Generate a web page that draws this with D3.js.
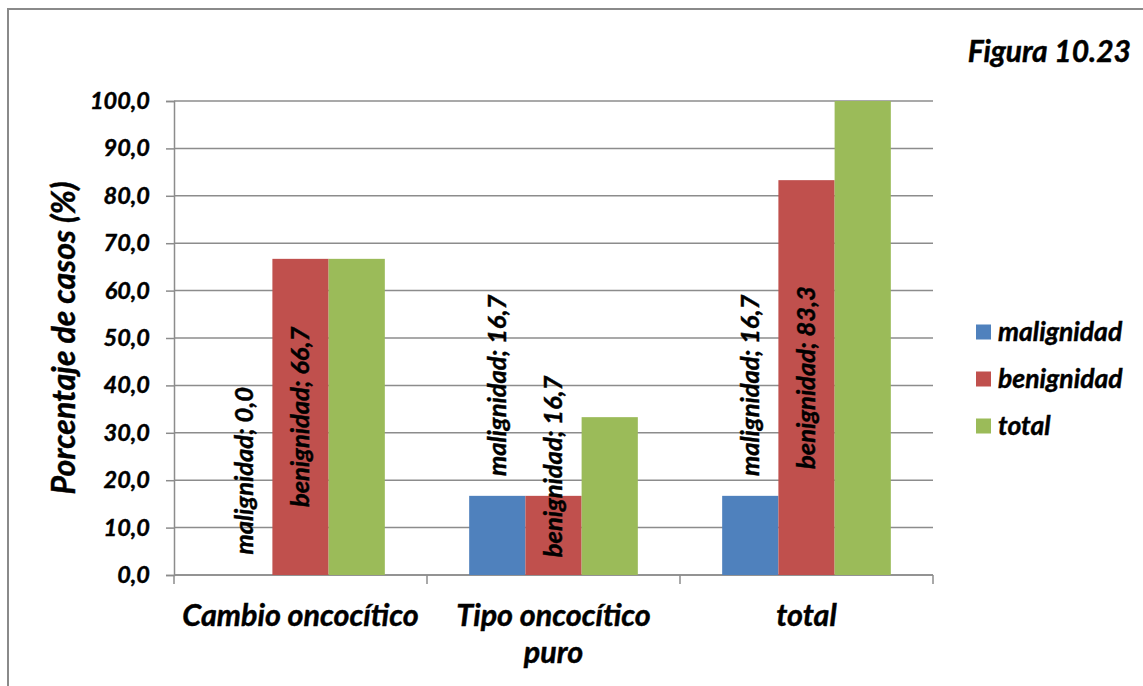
<!DOCTYPE html>
<html>
<head>
<meta charset="utf-8">
<script src="https://cdn.jsdelivr.net/npm/d3@7"></script>
<style>
  html, body { margin: 0; padding: 0; background: #fff; }
  svg { display: block; }
  text { font-family: "Lato", "Open Sans", sans-serif; font-weight: bold; font-style: italic; fill: #000; stroke: #000; stroke-width: 0.45px; }
</style>
</head>
<body>
<svg id="chart" width="1143" height="686"></svg>
<script>
// Chart data
const categories = ["Cambio oncocítico", "Tipo oncocítico puro", "total"];
const seriesNames = ["malignidad", "benignidad", "total"];
const malignidad = [0.0, 16.7, 16.7];
const benignidad = [66.7, 16.7, 83.3];
const total = [66.7, 33.3, 100.0];
const yTicks = [0, 10, 20, 30, 40, 50, 60, 70, 80, 90, 100];
const seriesColors = ["#4F81BD", "#C0504D", "#9BBB59"];

// Data-label placement: value-axis position of each label's centre
const labelCenterMal = [22.0, 40.0, 40.0];
const labelCenterBen = [33.35, 22.9, 41.65];

const svg = d3.select("#chart");

// Outer chart frame
svg.append("rect")
  .attr("x", 8).attr("y", 9).attr("width", 1300).attr("height", 900)
  .attr("fill", "none").attr("stroke", "#8a8a8a").attr("stroke-width", 2);

const plot = { left: 174, right: 933, top: 101, bottom: 575 };

const x0 = d3.scaleBand().domain(categories).range([plot.left, plot.right]).paddingInner(0).paddingOuter(0);
const x1 = d3.scaleBand().domain(seriesNames).range([0, x0.bandwidth()]).paddingInner(0).paddingOuter(0.75);
const y = d3.scaleLinear().domain([0, 100]).range([plot.bottom, plot.top]);

const fmt = v => d3.format(".1f")(v).replace(".", ",");

// Gridlines
svg.append("g").selectAll("line").data(yTicks).join("line")
  .attr("x1", plot.left).attr("x2", plot.right)
  .attr("y1", d => y(d)).attr("y2", d => y(d))
  .attr("stroke", "#8c8c8c").attr("stroke-width", 1.5);

// Y axis
const yAxis = svg.append("g").attr("transform", `translate(${plot.left},0)`)
  .call(d3.axisLeft(y).tickValues(yTicks).tickFormat(fmt).tickSize(8).tickPadding(16));
yAxis.select(".domain").attr("stroke", "#8c8c8c").attr("stroke-width", 1.5);
yAxis.selectAll(".tick line").attr("stroke", "#8c8c8c").attr("stroke-width", 1.5);
yAxis.selectAll(".tick text")
  .style("font-family", "Lato, sans-serif").style("font-weight", "bold").style("font-style", "italic")
  .style("font-size", "23.5px").attr("fill", "#000").attr("stroke", "#000").attr("stroke-width", 0.45);

// X axis (ticks at category boundaries)
const xAxisG = svg.append("g");
xAxisG.append("line").attr("x1", plot.left).attr("x2", plot.right)
  .attr("y1", plot.bottom).attr("y2", plot.bottom)
  .attr("stroke", "#8c8c8c").attr("stroke-width", 1.5);
const boundaries = categories.map(c => x0(c)).concat([x0(categories[categories.length - 1]) + x0.bandwidth()]);
xAxisG.selectAll("line.tk").data(boundaries).join("line").attr("class", "tk")
  .attr("x1", d => d).attr("x2", d => d)
  .attr("y1", plot.bottom).attr("y2", plot.bottom + 9)
  .attr("stroke", "#8c8c8c").attr("stroke-width", 1.5);

// Category labels (wrapped)
const catLines = { "Cambio oncocítico": ["Cambio oncocítico"], "Tipo oncocítico puro": ["Tipo oncocítico", "puro"], "total": ["total"] };
categories.forEach(c => {
  const cx = x0(c) + x0.bandwidth() / 2;
  const t = svg.append("text")
    .attr("x", cx).attr("y", 626)
    .attr("text-anchor", "middle").style("font-size", "30.5px");
  catLines[c].forEach((ln, i) => {
    t.append("tspan").attr("x", cx).attr("dy", i === 0 ? 0 : 37).text(ln);
  });
});

// Bars
const seriesValues = [malignidad, benignidad, total];
const barData = [];
categories.forEach((c, ci) => {
  seriesNames.forEach((s, si) => {
    barData.push({ cat: c, ci, series: s, si, value: seriesValues[si][ci] });
  });
});
svg.append("g").selectAll("rect").data(barData).join("rect")
  .attr("x", d => x0(d.cat) + x1(d.series))
  .attr("width", x1.bandwidth())
  .attr("y", d => y(d.value))
  .attr("height", d => y(0) - y(d.value))
  .attr("fill", d => seriesColors[d.si]);

// Data labels for malignidad and benignidad
const labels = [];
categories.forEach((c, ci) => {
  labels.push({ cat: c, series: "malignidad", text: `malignidad; ${fmt(malignidad[ci])}`, center: labelCenterMal[ci] });
  labels.push({ cat: c, series: "benignidad", text: `benignidad; ${fmt(benignidad[ci])}`, center: labelCenterBen[ci] });
});
svg.append("g").selectAll("text").data(labels).join("text")
  .attr("transform", d => `translate(${x0(d.cat) + x1(d.series) + x1.bandwidth() / 2},${y(d.center)}) rotate(-90)`)
  .attr("text-anchor", "middle").attr("dy", "0.35em")
  .style("font-size", "25.5px")
  .text(d => d.text);

// Y axis title
svg.append("text")
  .attr("transform", `translate(64,${(plot.top + plot.bottom) / 2}) rotate(-90)`)
  .attr("text-anchor", "middle").attr("dy", "0.35em")
  .style("font-size", "32px")
  .text("Porcentaje de casos (%)");

// Figure caption
svg.append("text").attr("x", 1131).attr("y", 62)
  .attr("text-anchor", "end").style("font-size", "30px")
  .text("Figura 10.23");

// Legend
const legend = svg.append("g");
const legendY = [332, 379, 426];
seriesNames.forEach((s, i) => {
  legend.append("rect").attr("x", 976).attr("y", legendY[i] - 7.5).attr("width", 15).attr("height", 15)
    .attr("fill", seriesColors[i]);
  legend.append("text").attr("x", 998).attr("y", legendY[i]).attr("dy", "0.35em")
    .style("font-size", "26.5px").text(s);
});
</script>
</body>
</html>
